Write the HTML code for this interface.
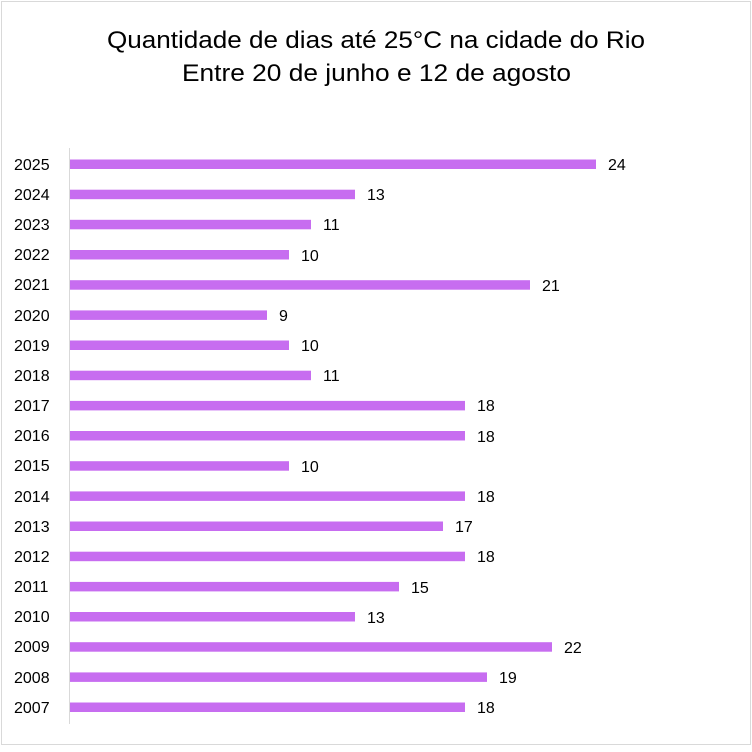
<!DOCTYPE html><html><head><style>body{margin:0;background:#fff}</style></head><body>
<svg width="752" height="747" xmlns="http://www.w3.org/2000/svg" font-family="Liberation Sans, sans-serif">
<rect x="1.5" y="1.5" width="749" height="743" fill="#fff" stroke="#d9d9d9"/>
<text x="107" y="48" font-size="24" textLength="538" lengthAdjust="spacingAndGlyphs" fill="#000">Quantidade de dias até 25°C na cidade do Rio</text>
<text x="182" y="81" font-size="24" textLength="389" lengthAdjust="spacingAndGlyphs" fill="#000">Entre 20 de junho e 12 de agosto</text>
<line x1="69.5" y1="148" x2="69.5" y2="724" stroke="#d9d9d9"/>
<g fill="#c76df0">
<rect x="70" y="159.5" width="526" height="9.5"/><rect x="70" y="189.7" width="285" height="9.5"/><rect x="70" y="219.8" width="241" height="9.5"/><rect x="70" y="250" width="219" height="9.5"/><rect x="70" y="280.2" width="460" height="9.5"/><rect x="70" y="310.4" width="197" height="9.5"/><rect x="70" y="340.5" width="219" height="9.5"/><rect x="70" y="370.7" width="241" height="9.5"/><rect x="70" y="400.9" width="395" height="9.5"/><rect x="70" y="431" width="395" height="9.5"/><rect x="70" y="461.2" width="219" height="9.5"/><rect x="70" y="491.4" width="395" height="9.5"/><rect x="70" y="521.5" width="373" height="9.5"/><rect x="70" y="551.7" width="395" height="9.5"/><rect x="70" y="581.9" width="329" height="9.5"/><rect x="70" y="612" width="285" height="9.5"/><rect x="70" y="642.2" width="482" height="9.5"/><rect x="70" y="672.4" width="417" height="9.5"/><rect x="70" y="702.5" width="395" height="9.5"/>
</g>
<g font-size="16" fill="#000">
<text x="14" y="170">2025</text><text x="14" y="200">2024</text><text x="14" y="230">2023</text><text x="14" y="260">2022</text><text x="14" y="290">2021</text><text x="14" y="321">2020</text><text x="14" y="351">2019</text><text x="14" y="381">2018</text><text x="14" y="411">2017</text><text x="14" y="441">2016</text><text x="14" y="471">2015</text><text x="14" y="502">2014</text><text x="14" y="532">2013</text><text x="14" y="562">2012</text><text x="14" y="592">2011</text><text x="14" y="622">2010</text><text x="14" y="652">2009</text><text x="14" y="683">2008</text><text x="14" y="713">2007</text>
<text x="608" y="170">24</text><text x="367" y="200">13</text><text x="323" y="230">11</text><text x="301" y="261">10</text><text x="542" y="291">21</text><text x="279" y="321">9</text><text x="301" y="351">10</text><text x="323" y="381">11</text><text x="477" y="411">18</text><text x="477" y="442">18</text><text x="301" y="472">10</text><text x="477" y="502">18</text><text x="455" y="532">17</text><text x="477" y="562">18</text><text x="411" y="593">15</text><text x="367" y="623">13</text><text x="564" y="653">22</text><text x="499" y="683">19</text><text x="477" y="713">18</text>
</g>
</svg>
</body></html>
